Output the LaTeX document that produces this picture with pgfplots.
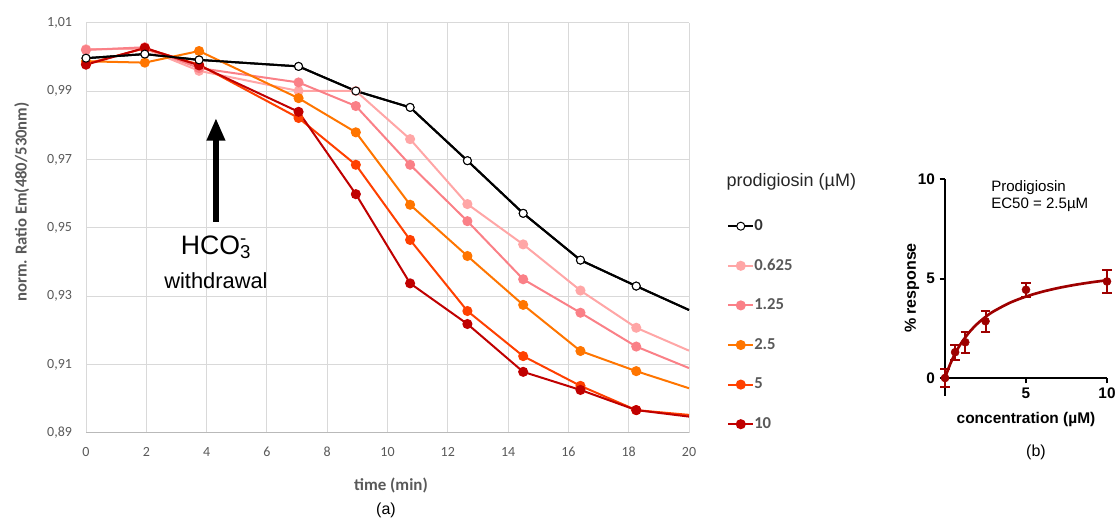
\documentclass[border=0pt]{standalone}
\usepackage{fontspec}
\setmainfont{Liberation Sans}
\newfontfamily\carlito{Carlito}
\usepackage{pgfplots}
\pgfplotsset{compat=1.18}
\usepackage{pgfplotstable}
\usetikzlibrary{arrows.meta}

\definecolor{tickgray}{RGB}{89,89,89}
\definecolor{gridgray}{RGB}{217,217,217}
\definecolor{cA}{RGB}{255,166,166}
\definecolor{cB}{RGB}{250,128,135}
\definecolor{cC}{RGB}{255,117,0}
\definecolor{cD}{RGB}{255,64,0}
\definecolor{cE}{RGB}{192,0,0}
\definecolor{dred}{RGB}{158,0,0}

\pgfplotstableread{
t     c0     c0625  c125   c25    c5     c10
0     0.9997 1.0023 1.0021 0.9988 0.9980 0.9978
1.95  1.0009 1.0025 1.0029 0.9984 1.0026 1.0027
3.75  0.9992 0.9960 0.9968 1.0018 0.9978 0.9976
7.05  0.9973 0.9901 0.9926 0.9880 0.9822 0.9840
8.95  0.9901 0.9901 0.9857 0.9780 0.9685 0.9599
10.75 0.9853 0.9760 0.9685 0.9568 0.9465 0.9338
12.65 0.9697 0.9570 0.9520 0.9418 0.9257 0.9219
14.5  0.9543 0.9452 0.9350 0.9275 0.9125 0.9079
16.4  0.9406 0.9317 0.9252 0.9140 0.9038 0.9026
18.25 0.9330 0.9208 0.9153 0.9081 0.8967 0.8967
20    0.9260 0.9141 0.9090 0.9031 0.8953 0.8948
}\kinetics

\pgfplotstableread{
c     r     e
0     0.00  0.45
0.625 1.30  0.37
1.25  1.80  0.52
2.5   2.86  0.52
5     4.44  0.34
10    4.86  0.60
}\dose

\pgfplotstableread{
x    y
0    0
0.25 0.559
0.5  1.025
0.75 1.419
1    1.757
1.5  2.306
2    2.733
2.5  3.075
3    3.355
4    3.785
5    4.100
6    4.341
7    4.532
8    4.686
9    4.813
10   4.920
}\fit

\begin{document}
\begin{tikzpicture}[x=0.75pt,y=0.75pt]
\path[use as bounding box] (0,0) rectangle (1118,518);

\begin{axis}[
  at={(64.5pt,63.75pt)}, anchor=south west,
  scale only axis, width=452.25pt, height=307.5pt,
  xmin=0, xmax=20, ymin=0.89, ymax=1.01,
  xtick={0,2,4,6,8,10,12,14,16,18,20},
  ytick={0.89,0.91,0.93,0.95,0.97,0.99,1.01},
  grid=major, grid style={gridgray, line width=0.75pt},
  axis line style={draw=none},
  major tick length=0pt,
  /pgf/number format/use comma,
  /pgf/number format/assume math mode=true,
  tick label style={font=\carlito\fontsize{10.5}{12}\selectfont, text=tickgray},
  yticklabel style={/pgf/number format/fixed, /pgf/number format/fixed zerofill, /pgf/number format/precision=2, xshift=-7pt},
  xticklabel style={yshift=-7pt},
  clip=false,
  legend cell align=left,
  legend image code/.code={\draw[#1, mark indices={2}] plot coordinates {(0pt,0pt) (9.4pt,0pt) (18.75pt,0pt)};},
  legend style={at={(1.063,0.527)}, anchor=north west, draw=none, fill=none, inner sep=0pt,
    row sep=16.2pt, font=\carlito\bfseries\fontsize{12.5}{14}\selectfont, text=tickgray,
    nodes={inner sep=1pt, text height=9pt, text depth=2.5pt},
    /tikz/every odd column/.append style={column sep=-1pt}},
  every axis plot/.append style={line width=1.5pt, mark size=3pt},
]
\addplot[black, mark=*, mark options={fill=white, draw=black, line width=0.75pt}, mark indices={1,2,3,4,5,6,7,8,9,10}] table[x=t, y=c0]{\kinetics};
\addlegendentry{\textcolor{black!80}{0}}
\addplot[cA, mark=*, mark options={fill=cA, draw=cA}, mark indices={1,2,3,4,5,6,7,8,9,10}] table[x=t, y=c0625]{\kinetics};
\addlegendentry{0.625}
\addplot[cB, mark=*, mark options={fill=cB, draw=cB}, mark indices={1,2,3,4,5,6,7,8,9,10}] table[x=t, y=c125]{\kinetics};
\addlegendentry{1.25}
\addplot[cC, mark=*, mark options={fill=cC, draw=cC}, mark indices={1,2,3,4,5,6,7,8,9,10}] table[x=t, y=c25]{\kinetics};
\addlegendentry{2.5}
\addplot[cD, mark=*, mark options={fill=cD, draw=cD}, mark indices={1,2,3,4,5,6,7,8,9,10}] table[x=t, y=c5]{\kinetics};
\addlegendentry{5}
\addplot[cE, mark=*, mark options={fill=cE, draw=cE}, mark indices={1,2,3,4,5,6,7,8,9,10}] table[x=t, y=c10]{\kinetics};
\addlegendentry{10}
\addplot[black, forget plot, mark=*, mark options={fill=white, draw=black, line width=0.75pt}, mark indices={1,2,3,4,5,6,7,8,9,10}] table[x=t, y=c0]{\kinetics};

\draw[gray!55, line width=0.75pt] (rel axis cs:0,0) -- (rel axis cs:1,0);
\draw[line width=4.5pt, -{Triangle[width=13pt,length=17pt]}] (axis cs:4.31,0.9518) -- (axis cs:4.31,0.9822);
\node[font=\fontsize{20}{22}\selectfont] at (axis cs:4.31,0.9444) {HCO\rlap{\textsuperscript{-}}\textsubscript{3}};
\node[font=\fontsize{16.4}{18}\selectfont] at (axis cs:4.31,0.9345) {withdrawal};
\end{axis}

\begin{axis}[
  at={(708.75pt,105pt)}, anchor=south west,
  scale only axis, width=121.5pt, height=149pt,
  xmin=0, xmax=10, ymin=0, ymax=10,
  axis x line=bottom, axis y line=left,
  axis line style={line width=2pt, -},
  xtick={5,10}, ytick={0,5,10},
  tick align=outside, major tick length=4pt,
  tick style={line width=1.5pt, black},
  /pgf/number format/assume math mode=true,
  tick label style={font=\bfseries\fontsize{11.5}{13}\selectfont},
  clip=false,
]
\draw[line width=2pt] (axis cs:0,0) -- (axis cs:0,-0.9);
\addplot[dred, line width=2pt, smooth, no marks] table[x=x, y=y]{\fit};
\addplot[dred, only marks, mark=*, mark size=3pt,
  error bars/.cd, y dir=both, y explicit,
  error bar style={line width=1.5pt},
  error mark options={rotate=90, mark size=3.5pt, line width=1.5pt}]
  table[x=c, y=r, y error=e]{\dose};
\end{axis}

\node[rotate=90, font=\carlito\bfseries\fontsize{12.5}{14}\selectfont, text=tickgray] at (21.7,316) {norm. Ratio Em(480/530nm)};
\node[font=\carlito\bfseries\fontsize{12.7}{14}\selectfont, text=tickgray] at (391,33) {time (min)};
\node[font=\fontsize{12}{14}\selectfont] at (386,8) {(a)};
\node[anchor=west, font=\fontsize{13.5}{15}\selectfont, text=black!85] at (722,336) {prodigiosin (µM)};
\node[anchor=west, font=\fontsize{11.3}{12.75}\selectfont, inner sep=0pt] at (991,330) {Prodigiosin};
\node[anchor=west, font=\fontsize{11.3}{12.75}\selectfont, inner sep=0pt] at (991,313) {EC50 = 2.5µM};
\node[rotate=90, font=\bfseries\fontsize{12}{14}\selectfont] at (912,230) {\% response};
\node[font=\bfseries\fontsize{11.6}{13}\selectfont] at (1026,98) {concentration (µM)};
\node[font=\fontsize{12}{14}\selectfont] at (1036,66) {(b)};
\end{tikzpicture}
\end{document}
